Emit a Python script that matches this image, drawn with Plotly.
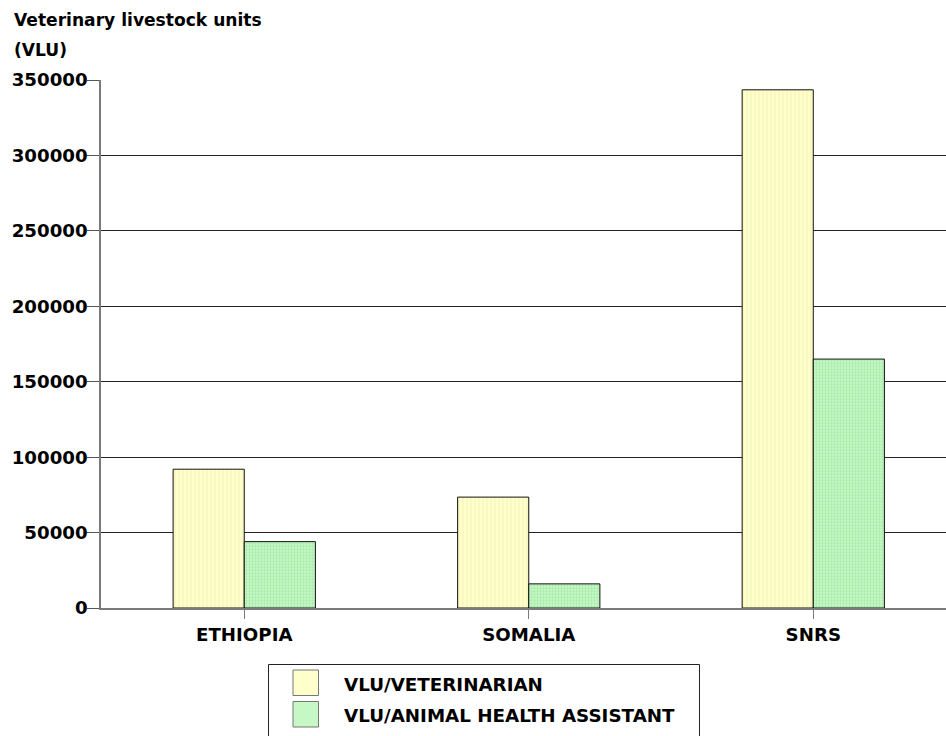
import plotly.graph_objects as go

categories = ["ETHIOPIA", "SOMALIA", "SNRS"]
vlu_veterinarian = [92000, 73500, 343500]
vlu_aha = [44000, 16000, 165000]
series_names = ["VLU/VETERINARIAN", "VLU/ANIMAL HEALTH ASSISTANT"]
y_ticks = [0, 50000, 100000, 150000, 200000, 250000, 300000, 350000]

FONT = "DejaVu Sans"
W, H = 946, 736
ML, MR, MT, MB = 101, 0, 80, 128
PW, PH = W - ML - MR, H - MT - MB

def px(x):
    return (x - ML) / PW

def py(y):
    return (H - MB - y) / PH

yellow_bg, yellow_fg = "#FFFFCC", "#EEEAA6"
green_bg, green_fg = "#C6F8C6", "#8EDC8E"

fig = go.Figure()
fig.add_trace(go.Bar(
    x=categories, y=vlu_veterinarian, name=series_names[0],
    marker=dict(color=yellow_bg, line=dict(color="#111111", width=1),
                pattern=dict(shape="|", fgcolor=yellow_fg, bgcolor=yellow_bg,
                             size=4, solidity=0.3)),
    showlegend=False,
))
fig.add_trace(go.Bar(
    x=categories, y=vlu_aha, name=series_names[1],
    marker=dict(color=green_bg, line=dict(color="#111111", width=1),
                pattern=dict(shape=".", fgcolor=green_fg, bgcolor=green_bg,
                             size=3, solidity=0.45)),
    showlegend=False,
))

fig.update_layout(
    width=W, height=H,
    margin=dict(l=ML, r=MR, t=MT, b=MB, pad=0),
    paper_bgcolor="white", plot_bgcolor="white",
    barmode="group", bargap=0.5, bargroupgap=0,
    font=dict(family=FONT, size=18, color="black", weight="bold"),
    xaxis=dict(
        type="category", range=[-0.5035, 2.4665],
        showline=True, linecolor="#7A7A7A", linewidth=1.5,
        ticks="outside", ticklen=9, tickcolor="#7A7A7A", tickwidth=1,
        showgrid=False, zeroline=False,
        tickfont=dict(family=FONT, size=18.2, color="black", weight="bold"),
    ),
    yaxis=dict(
        range=[0, 350000], tickvals=y_ticks, tickformat="d",
        showline=True, linecolor="#7A7A7A", linewidth=1.5,
        ticks="outside", ticklen=12, tickcolor="#555555", tickwidth=1,
        ticklabelstandoff=-4,
        showgrid=True, gridcolor="#222222", gridwidth=1,
        zeroline=False,
        tickfont=dict(family=FONT, size=18.2, color="black", weight="bold"),
    ),
)

# Title lines
fig.add_annotation(text="Veterinary livestock units", xref="paper", yref="paper",
                   x=px(12), y=py(20), xanchor="left", yanchor="middle",
                   showarrow=False, font=dict(family=FONT, size=17.1, weight="bold"))
fig.add_annotation(text="(VLU)", xref="paper", yref="paper",
                   x=px(12), y=py(50), xanchor="left", yanchor="middle",
                   showarrow=False, font=dict(family=FONT, size=17.1, weight="bold"))

# Manual legend
fig.add_shape(type="rect", xref="paper", yref="paper",
              x0=px(268.5), x1=px(699.5), y0=py(664.5), y1=py(800),
              line=dict(color="#222222", width=1), fillcolor="white", layer="above")
rows = [(670, 695.5, yellow_bg, series_names[0]), (701.5, 727, green_bg, series_names[1])]
for (t, b, col, name) in rows:
    fig.add_shape(type="rect", xref="paper", yref="paper",
                  x0=px(293), x1=px(318.5), y0=py(t), y1=py(b),
                  line=dict(color="#777777", width=1), fillcolor=col, layer="above")
    fig.add_annotation(text=name, xref="paper", yref="paper",
                       x=px(342), y=py((t + b) / 2 + 1.5), xanchor="left", yanchor="middle",
                       showarrow=False, font=dict(family=FONT, size=18.3, weight="bold"))

fig.write_html("out.html")
